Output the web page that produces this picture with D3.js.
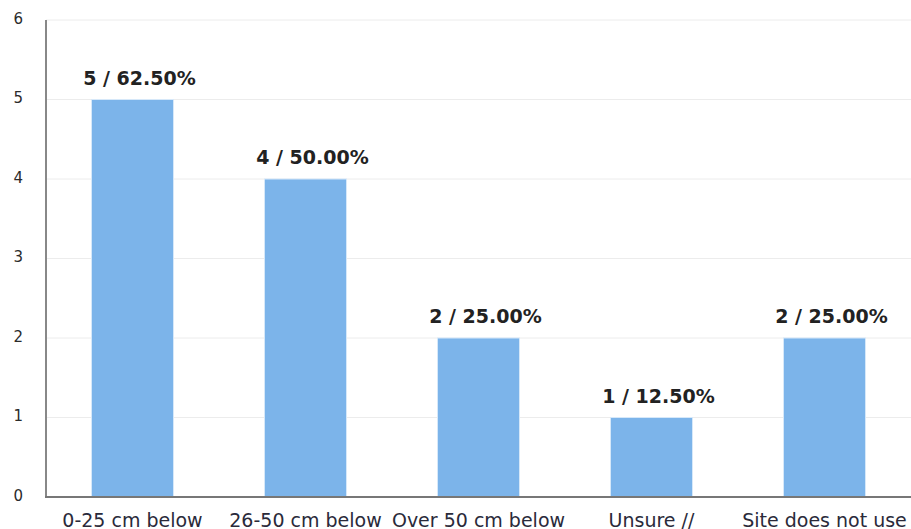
<!DOCTYPE html>
<html>
<head>
<meta charset="utf-8">
<script src="https://cdn.jsdelivr.net/npm/d3@7"></script>
<style>
  html, body { margin: 0; padding: 0; background: #fff; }
  svg { display: block; }
</style>
</head>
<body>
<svg id="chart" width="911" height="529"></svg>
<script>
// Survey responses: count per answer and share of all respondents
const categories = ["0-25 cm below", "26-50 cm below", "Over 50 cm below", "Unsure //", "Site does not use"];
const counts = [5, 4, 2, 1, 2];
const percents = ["62.50%", "50.00%", "25.00%", "12.50%", "25.00%"];
const yTicks = [0, 1, 2, 3, 4, 5, 6];

const svg = d3.select("#chart");
const font = "Verdana, 'DejaVu Sans', sans-serif";

const x = d3.scaleBand()
  .domain(categories)
  .range([46, 911])
  .paddingInner(0.526)
  .paddingOuter(0.263);

const y = d3.scaleLinear().domain([0, 6]).range([497, 20]);

// horizontal grid lines
svg.append("g")
  .selectAll("line")
  .data(yTicks.filter(d => d > 0))
  .join("line")
  .attr("x1", 46).attr("x2", 911)
  .attr("y1", d => y(d)).attr("y2", d => y(d))
  .attr("stroke", "#ececec").attr("stroke-width", 1);

// y tick labels
svg.append("g")
  .selectAll("text")
  .data(yTicks)
  .join("text")
  .attr("x", 23)
  .attr("y", d => y(d) + 3.5)
  .attr("text-anchor", "end")
  .attr("font-family", font)
  .attr("font-size", 15)
  .attr("fill", "#2b2b2b")
  .text(d => d);

// bars
svg.append("g")
  .selectAll("rect")
  .data(categories)
  .join("rect")
  .attr("x", d => x(d))
  .attr("width", x.bandwidth())
  .attr("y", (d, i) => y(counts[i]))
  .attr("height", (d, i) => y(0) - y(counts[i]))
  .attr("fill", "#7cb4ea")
  .attr("stroke", "#d6e8f9")
  .attr("stroke-width", 1);

// value labels
svg.append("g")
  .selectAll("text")
  .data(categories)
  .join("text")
  .attr("x", d => x(d) + x.bandwidth() / 2 + 7)
  .attr("y", (d, i) => y(counts[i]) - 15)
  .attr("text-anchor", "middle")
  .attr("font-family", font)
  .attr("font-size", 19)
  .attr("font-weight", "bold")
  .attr("fill", "#222")
  .text((d, i) => counts[i] + " / " + percents[i]);

// axis lines
svg.append("line")
  .attr("x1", 46).attr("x2", 46).attr("y1", 20).attr("y2", 498)
  .attr("stroke", "#888").attr("stroke-width", 2);
svg.append("line")
  .attr("x1", 45).attr("x2", 911).attr("y1", 497).attr("y2", 497)
  .attr("stroke", "#777").attr("stroke-width", 2);

// category labels
svg.append("g")
  .selectAll("text")
  .data(categories)
  .join("text")
  .attr("x", d => x(d) + x.bandwidth() / 2)
  .attr("y", 526.5)
  .attr("text-anchor", "middle")
  .attr("font-family", font)
  .attr("font-size", 19)
  .attr("fill", "#2a2a3a")
  .text(d => d);
</script>
</body>
</html>
